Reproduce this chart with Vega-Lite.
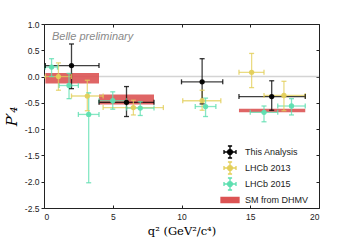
{
  "$schema": "https://vega.github.io/schema/vega-lite/v6.json",
  "width": 275,
  "height": 184,
  "autosize": "none",
  "padding": {"left": 44, "top": 24, "right": 35, "bottom": 37},
  "background": "white",
  "config": {
    "view": {"stroke": "#222222", "strokeWidth": 1},
    "font": "Liberation Sans",
    "axis": {"grid": false, "domain": false, "labelFont": "Liberation Sans", "labelFontSize": 8.5, "labelColor": "#222222", "tickColor": "#222222"},
    "legend": {"symbolOpacity": 1, "symbolSize": 144, "symbolStrokeWidth": 1.3, "labelFont": "Liberation Sans", "labelFontSize": 9, "labelColor": "#222222", "labelOffset": 8, "rowPadding": -6.9, "padding": 0}
  },
  "datasets": {
    "pts": [
      {"series": "LHCb 2013", "x": 1.05, "xlo": 0.1, "xhi": 2.0, "y": 0.0, "ylo": -0.26, "yhi": 0.26},
      {"series": "LHCb 2013", "x": 3.15, "xlo": 2.0, "xhi": 4.3, "y": -0.37, "ylo": -0.65, "yhi": -0.07},
      {"series": "LHCb 2013", "x": 6.5, "xlo": 4.3, "xhi": 8.68, "y": -0.59, "ylo": -0.73, "yhi": -0.45},
      {"series": "LHCb 2013", "x": 11.5, "xlo": 10.09, "xhi": 12.86, "y": -0.46, "ylo": -0.64, "yhi": -0.26},
      {"series": "LHCb 2013", "x": 15.1, "xlo": 14.18, "xhi": 16.0, "y": 0.08, "ylo": -0.21, "yhi": 0.44},
      {"series": "LHCb 2013", "x": 17.45, "xlo": 16.0, "xhi": 19.0, "y": -0.36, "ylo": -0.65, "yhi": -0.09},
      {"series": "LHCb 2015", "x": 0.55, "xlo": 0.1, "xhi": 0.98, "y": 0.18, "ylo": 0.0, "yhi": 0.34},
      {"series": "LHCb 2015", "x": 1.82, "xlo": 1.1, "xhi": 2.5, "y": -0.17, "ylo": -0.42, "yhi": 0.06},
      {"series": "LHCb 2015", "x": 3.25, "xlo": 2.5, "xhi": 4.0, "y": -0.72, "ylo": -2.02, "yhi": -0.31},
      {"series": "LHCb 2015", "x": 5.0, "xlo": 4.0, "xhi": 6.0, "y": -0.46, "ylo": -0.62, "yhi": -0.29},
      {"series": "LHCb 2015", "x": 7.0, "xlo": 6.0, "xhi": 8.0, "y": -0.6, "ylo": -0.74, "yhi": -0.48},
      {"series": "LHCb 2015", "x": 11.75, "xlo": 11.0, "xhi": 12.5, "y": -0.57, "ylo": -0.76, "yhi": -0.41},
      {"series": "LHCb 2015", "x": 16.0, "xlo": 15.0, "xhi": 17.0, "y": -0.68, "ylo": -0.86, "yhi": -0.56},
      {"series": "LHCb 2015", "x": 18.0, "xlo": 17.0, "xhi": 19.0, "y": -0.56, "ylo": -0.73, "yhi": -0.42},
      {"series": "This Analysis", "x": 2.0, "xlo": 0.1, "xhi": 4.0, "y": 0.21, "ylo": -0.23, "yhi": 0.62},
      {"series": "This Analysis", "x": 6.0, "xlo": 4.0, "xhi": 8.0, "y": -0.49, "ylo": -0.76, "yhi": -0.19},
      {"series": "This Analysis", "x": 11.5, "xlo": 10.0, "xhi": 13.0, "y": -0.1, "ylo": -0.52, "yhi": 0.34},
      {"series": "This Analysis", "x": 16.56, "xlo": 14.18, "xhi": 19.0, "y": -0.38, "ylo": -0.64, "yhi": -0.08}
    ],
    "sm": [
      {"series": "SM from DHMV", "xlo": 0.1, "xhi": 4.0, "ylo": -0.13, "yhi": 0.07},
      {"series": "SM from DHMV", "xlo": 4.0, "xhi": 8.0, "ylo": -0.53, "yhi": -0.34},
      {"series": "SM from DHMV", "xlo": 14.18, "xhi": 19.0, "ylo": -0.68, "yhi": -0.61}
    ],
    "leg": [
      {"series": "This Analysis", "x": 10, "y": 0},
      {"series": "LHCb 2013", "x": 10, "y": 0},
      {"series": "LHCb 2015", "x": 10, "y": 0},
      {"series": "SM from DHMV", "x": 10, "y": 0}
    ],
    "note": [{"x": 0.58, "y": 0.75, "label": "Belle preliminary"}],
    "zero": [{"y": 0}]
  },
  "resolve": {"axis": {"x": "independent", "y": "independent"}},
  "layer": [
    {
      "data": {"name": "zero"},
      "mark": {"type": "rule", "color": "#d4d4d4", "strokeWidth": 1.5},
      "encoding": {
        "y": {"field": "y", "type": "quantitative", "scale": {"domain": [-2.5, 1.0], "nice": false, "zero": false},
              "axis": {"orient": "left", "values": [-2.5, -2, -1.5, -1, -0.5, 0, 0.5, 1], "labelExpr": "replace(format(datum.value, '.1f'), '\u2212', '-')", "tickSize": 3, "labelPadding": 2,
                       "title": "P\u2032\u2084", "titleFont": "DejaVu Serif", "titleFontStyle": "italic", "titleFontWeight": "normal", "titleFontSize": 15, "titlePadding": 5}}
      }
    },
    {
      "data": {"name": "sm"},
      "mark": {"type": "rect", "opacity": 0.9},
      "encoding": {
        "x": {"field": "xlo", "type": "quantitative", "scale": {"domain": [0, 20], "nice": false, "zero": false},
              "axis": {"orient": "bottom", "values": [0, 5, 10, 15, 20], "tickSize": -3, "labelPadding": 7,
                       "title": "q\u00b2 (GeV\u00b2/c\u2074)", "titleFont": "DejaVu Serif", "titleFontWeight": "normal", "titleFontSize": 11.5, "titlePadding": 5}},
        "x2": {"field": "xhi"},
        "y": {"field": "ylo", "type": "quantitative", "axis": {"orient": "right", "values": [-2.5, -2, -1.5, -1, -0.5, 0, 0.5, 1], "tickSize": -3, "labels": false, "title": null}},
        "y2": {"field": "yhi"},
        "color": {"field": "series", "type": "nominal", "legend": null,
                  "scale": {"domain": ["SM from DHMV", "LHCb 2013", "LHCb 2015", "This Analysis"], "range": ["#dc5454", "#e3cf5a", "#5ddfb0", "#000000"]}}
      }
    },
    {
      "data": {"name": "pts"},
      "mark": {"type": "rule", "strokeWidth": 1.3, "opacity": 0.75},
      "encoding": {
        "x": {"field": "xlo", "type": "quantitative", "axis": {"orient": "top", "values": [0, 5, 10, 15, 20], "tickSize": -3, "labels": false, "title": null}},
        "x2": {"field": "xhi"},
        "y": {"field": "y", "type": "quantitative", "axis": null},
        "color": {"field": "series", "type": "nominal", "legend": null}
      }
    },
    {
      "data": {"name": "pts"},
      "mark": {"type": "rule", "strokeWidth": 1.3, "opacity": 0.75},
      "encoding": {
        "x": {"field": "x", "type": "quantitative", "axis": null},
        "y": {"field": "ylo", "type": "quantitative", "axis": null},
        "y2": {"field": "yhi"},
        "color": {"field": "series", "type": "nominal", "legend": null}
      }
    },
    {
      "data": {"name": "pts"},
      "transform": [{"fold": ["ylo", "yhi"], "as": ["end", "yv"]}],
      "mark": {"type": "point", "shape": "M-1,0H1", "size": 25, "filled": false, "strokeWidth": 1.3, "opacity": 0.8},
      "encoding": {
        "x": {"field": "x", "type": "quantitative", "axis": null},
        "y": {"field": "yv", "type": "quantitative", "axis": null},
        "color": {"field": "series", "type": "nominal", "legend": null}
      }
    },
    {
      "data": {"name": "pts"},
      "transform": [{"fold": ["xlo", "xhi"], "as": ["end", "xv"]}],
      "mark": {"type": "point", "shape": "M0,-1V1", "size": 25, "filled": false, "strokeWidth": 1.3, "opacity": 0.8},
      "encoding": {
        "x": {"field": "xv", "type": "quantitative", "axis": null},
        "y": {"field": "y", "type": "quantitative", "axis": null},
        "color": {"field": "series", "type": "nominal", "legend": null}
      }
    },
    {
      "data": {"name": "pts"},
      "mark": {"type": "circle", "size": 28, "opacity": 0.95},
      "encoding": {
        "x": {"field": "x", "type": "quantitative", "axis": null},
        "y": {"field": "y", "type": "quantitative", "axis": null},
        "color": {"field": "series", "type": "nominal", "legend": null}
      }
    },
    {
      "data": {"name": "leg"},
      "mark": {"type": "point", "opacity": 0, "strokeWidth": 1.3},
      "encoding": {
        "x": {"field": "x", "type": "quantitative", "axis": null},
        "y": {"field": "y", "type": "quantitative", "axis": null},
        "fill": {"field": "series", "type": "nominal",
                 "scale": {"domain": ["This Analysis", "LHCb 2013", "LHCb 2015", "SM from DHMV"], "range": ["#000000", "#e3cf5a", "#5ddfb0", "#dc5454"]},
                 "legend": {"title": null, "orient": "none", "legendX": 179, "legendY": 121}},
        "stroke": {"field": "series", "type": "nominal",
                   "scale": {"domain": ["This Analysis", "LHCb 2013", "LHCb 2015", "SM from DHMV"], "range": ["#000000", "#e3cf5a", "#5ddfb0", "#dc5454"]},
                   "legend": {"title": null, "orient": "none", "legendX": 179, "legendY": 121}},
        "shape": {"field": "series", "type": "nominal",
                  "scale": {"domain": ["This Analysis", "LHCb 2013", "LHCb 2015", "SM from DHMV"],
                            "range": ["M-1,0H1M0,-1V1M-1,-0.35V0.35M1,-0.35V0.35M-0.35,-1H0.35M-0.35,1H0.35M-0.4,0A0.4,0.4,0,1,0,0.4,0A0.4,0.4,0,1,0,-0.4,0Z",
                                      "M-1,0H1M0,-1V1M-1,-0.35V0.35M1,-0.35V0.35M-0.35,-1H0.35M-0.35,1H0.35M-0.4,0A0.4,0.4,0,1,0,0.4,0A0.4,0.4,0,1,0,-0.4,0Z",
                                      "M-1,0H1M0,-1V1M-1,-0.35V0.35M1,-0.35V0.35M-0.35,-1H0.35M-0.35,1H0.35M-0.4,0A0.4,0.4,0,1,0,0.4,0A0.4,0.4,0,1,0,-0.4,0Z",
                                      "M-1.5,-0.42H1.5V0.42H-1.5Z"]},
                  "legend": {"title": null, "orient": "none", "legendX": 179, "legendY": 121}}
      }
    },
    {
      "data": {"name": "note"},
      "mark": {"type": "text", "align": "left", "baseline": "middle", "font": "Liberation Sans", "fontStyle": "italic", "fontSize": 11, "color": "#8a8a8a"},
      "encoding": {
        "x": {"field": "x", "type": "quantitative", "axis": null},
        "y": {"field": "y", "type": "quantitative", "axis": null},
        "text": {"field": "label"}
      }
    }
  ]
}
